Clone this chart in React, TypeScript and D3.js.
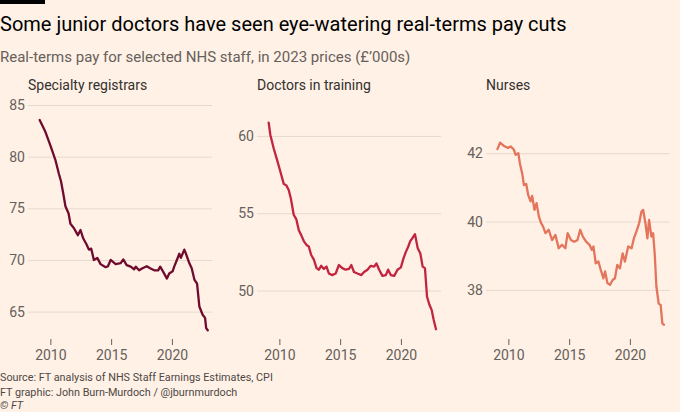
import { useEffect, useRef } from "react";
import * as d3 from "d3";

// Real-terms pay, £'000s in 2023 prices
const registrarYears = [2009.12, 2009.59, 2010.0, 2010.41, 2010.69, 2010.88, 2011.05, 2011.24, 2011.5, 2011.65, 2011.93, 2012.26, 2012.48, 2012.7, 2012.98, 2013.17, 2013.36, 2013.58, 2013.86, 2014.13, 2014.55, 2014.74, 2014.96, 2015.37, 2015.79, 2016.0, 2016.28, 2016.61, 2016.89, 2017.03, 2017.3, 2017.58, 2017.93, 2018.21, 2018.54, 2018.87, 2019.04, 2019.31, 2019.59, 2019.78, 2020.06, 2020.19, 2020.41, 2020.61, 2020.74, 2021.02, 2021.16, 2021.43, 2021.63, 2021.85, 2022.07, 2022.26, 2022.53, 2022.73, 2022.82, 2022.95];
const registrarPay = [83.55, 82.4, 81.1, 79.7, 78.4, 77.6, 76.5, 75.2, 74.5, 73.5, 73.1, 72.4, 72.9, 72.1, 71.5, 71.0, 71.1, 70.0, 70.2, 69.6, 69.3, 69.4, 70.0, 69.6, 69.7, 70.05, 69.5, 69.35, 69.1, 69.35, 69.0, 69.2, 69.4, 69.2, 69.0, 69.0, 69.35, 68.8, 68.2, 68.7, 68.9, 69.35, 70.0, 70.6, 70.2, 71.0, 70.6, 69.7, 69.2, 68.1, 67.7, 65.5, 64.7, 64.4, 63.4, 63.2];

const traineeYears = [2009.12, 2009.26, 2009.53, 2009.81, 2010.08, 2010.36, 2010.58, 2010.77, 2010.96, 2011.18, 2011.4, 2011.6, 2011.79, 2012.01, 2012.23, 2012.42, 2012.62, 2012.84, 2013.06, 2013.25, 2013.44, 2013.66, 2013.88, 2014.08, 2014.35, 2014.63, 2014.9, 2015.18, 2015.45, 2015.73, 2015.92, 2016.14, 2016.42, 2016.75, 2016.97, 2017.25, 2017.52, 2017.8, 2017.99, 2018.21, 2018.48, 2018.76, 2018.95, 2019.17, 2019.45, 2019.72, 2020.0, 2020.22, 2020.41, 2020.61, 2020.77, 2020.96, 2021.16, 2021.38, 2021.6, 2021.79, 2021.98, 2022.15, 2022.34, 2022.53, 2022.7, 2022.89];
const traineePay = [60.86, 60.06, 59.2, 58.45, 57.7, 56.9, 56.8, 56.5, 55.9, 54.9, 54.6, 53.9, 53.6, 53.2, 52.95, 52.85, 52.3, 52.0, 51.45, 51.35, 51.6, 51.4, 51.55, 51.1, 51.0, 51.1, 51.65, 51.45, 51.35, 51.4, 51.65, 51.2, 51.1, 51.0, 51.2, 51.35, 51.6, 51.55, 51.75, 51.35, 50.95, 51.0, 51.35, 51.0, 50.95, 51.35, 51.5, 52.1, 52.5, 52.85, 53.2, 53.4, 53.65, 52.75, 52.4, 51.55, 51.45, 49.6, 49.1, 48.75, 48.1, 47.5];

const nurseYears = [2009.1, 2009.32, 2009.65, 2009.97, 2010.19, 2010.46, 2010.6, 2010.82, 2010.95, 2011.14, 2011.28, 2011.47, 2011.63, 2011.83, 2011.96, 2012.15, 2012.32, 2012.51, 2012.7, 2012.86, 2013.05, 2013.32, 2013.6, 2013.87, 2014.14, 2014.41, 2014.69, 2014.88, 2015.15, 2015.42, 2015.69, 2015.91, 2016.13, 2016.4, 2016.68, 2016.87, 2017.0, 2017.19, 2017.41, 2017.6, 2017.82, 2017.96, 2018.15, 2018.37, 2018.58, 2018.77, 2018.96, 2019.18, 2019.4, 2019.59, 2019.86, 2020.14, 2020.33, 2020.54, 2020.76, 2020.95, 2021.09, 2021.28, 2021.44, 2021.58, 2021.77, 2021.91, 2022.04, 2022.18, 2022.37, 2022.53, 2022.67, 2022.81];
const nursePay = [42.12, 42.31, 42.21, 42.15, 42.2, 42.1, 41.95, 42.0, 41.7, 41.4, 41.07, 41.1, 40.78, 40.59, 40.75, 40.34, 40.54, 40.15, 39.95, 39.85, 39.66, 39.76, 39.46, 39.61, 39.22, 39.32, 39.22, 39.66, 39.46, 39.41, 39.46, 39.76, 39.56, 39.41, 39.32, 39.17, 39.27, 38.78, 38.83, 38.59, 38.34, 38.54, 38.2, 38.15, 38.29, 38.34, 38.73, 38.63, 39.07, 38.83, 39.27, 39.22, 39.51, 39.71, 39.95, 40.29, 40.34, 39.95, 39.51, 40.05, 39.56, 39.66, 39.07, 38.1, 37.6, 37.56, 37.02, 36.98];

const panelTitles = ["Specialty registrars", "Doctors in training", "Nurses"];
const panelColors = ["#6f0b2e", "#c1253f", "#e4745b"];
const yearTicks = [2010, 2015, 2020];
const registrarTicks = [65, 70, 75, 80, 85];
const traineeTicks = [50, 55, 60];
const nurseTicks = [38, 40, 42];

const FONT = "Roboto, 'Noto Sans', sans-serif";

export default function App() {
  const svgRef = useRef<SVGSVGElement>(null);

  useEffect(() => {
    if (!svgRef.current) return;
    const W = 680, H = 412;
    const svg = d3.select(svgRef.current);
    svg.selectAll("*").remove();
    svg.attr("width", W).attr("height", H).attr("viewBox", `0 0 ${W} ${H}`);

    svg.append("rect").attr("width", W).attr("height", H).attr("fill", "#fff1e5");
    svg.append("rect").attr("width", 45).attr("height", 4).attr("fill", "#000");

    svg.append("text").attr("x", 0).attr("y", 31)
      .attr("font-family", FONT).attr("font-size", 20).attr("fill", "#000")
      .text("Some junior doctors have seen eye-watering real-terms pay cuts");
    svg.append("text").attr("x", 0).attr("y", 62)
      .attr("font-family", FONT).attr("font-size", 15).attr("fill", "#66605c")
      .text("Real-terms pay for selected NHS staff, in 2023 prices (£’000s)");

    const panels = [
      { years: registrarYears, pay: registrarPay, ticks: registrarTicks, domain: [63, 85] },
      { years: traineeYears, pay: traineePay, ticks: traineeTicks, domain: [47.3, 62] },
      { years: nurseYears, pay: nursePay, ticks: nurseTicks, domain: [36.76, 43.41] },
    ];

    const plotW = 184;
    const plotTop = 105, plotBottom = 332.3;
    const x = d3.scaleLinear().domain([2008.16, 2023.3]).range([0, plotW]);

    panels.forEach((p, i) => {
      const g = svg.append("g").attr("transform", `translate(${28 + 229 * i},0)`);
      const y = d3.scaleLinear().domain(p.domain).range([plotBottom, plotTop]);

      g.append("text").attr("x", 0).attr("y", 90)
        .attr("font-family", FONT).attr("font-size", 14).attr("fill", "#33302e")
        .text(panelTitles[i]);

      // y gridlines + labels
      const yAxis = g.append("g").call(
        d3.axisLeft(y).tickValues(p.ticks).tickSize(-plotW).tickPadding(3).tickFormat(d3.format("d"))
      );
      yAxis.select(".domain").remove();
      yAxis.selectAll(".tick line").attr("stroke", "#e6d9ce").attr("stroke-width", 1);
      yAxis.selectAll(".tick text").attr("fill", "#66605c").attr("font-family", FONT).attr("font-size", 14);

      // x ticks
      const xAxis = g.append("g").attr("transform", "translate(0,339)").call(
        d3.axisBottom(x).tickValues(yearTicks).tickSize(6).tickPadding(5).tickFormat(d3.format("d"))
      );
      xAxis.select(".domain").remove();
      xAxis.selectAll(".tick line").attr("stroke", "#66605c").attr("stroke-width", 1);
      xAxis.selectAll(".tick text").attr("fill", "#66605c").attr("font-family", FONT).attr("font-size", 14);

      const line = d3.line<number>().x((_, k) => x(p.years[k])).y(d => y(d));
      g.append("path").datum(p.pay).attr("d", line)
        .attr("fill", "none").attr("stroke", panelColors[i]).attr("stroke-width", 2.3)
        .attr("stroke-linejoin", "round").attr("stroke-linecap", "round");
    });

    const foot = svg.append("g").attr("font-family", FONT).attr("font-size", 10.8).attr("fill", "#4d4845");
    foot.append("text").attr("x", 0).attr("y", 381).text("Source: FT analysis of NHS Staff Earnings Estimates, CPI");
    foot.append("text").attr("x", 0).attr("y", 396).text("FT graphic: John Burn-Murdoch / @jburnmurdoch");
    foot.append("text").attr("x", 0).attr("y", 409).attr("font-style", "italic").text("© FT");
  }, []);

  return (
    <div>
      <style>{`body{margin:0;background:#fff1e5}`}</style>
      <svg ref={svgRef} style={{ display: "block" }} />
    </div>
  );
}
